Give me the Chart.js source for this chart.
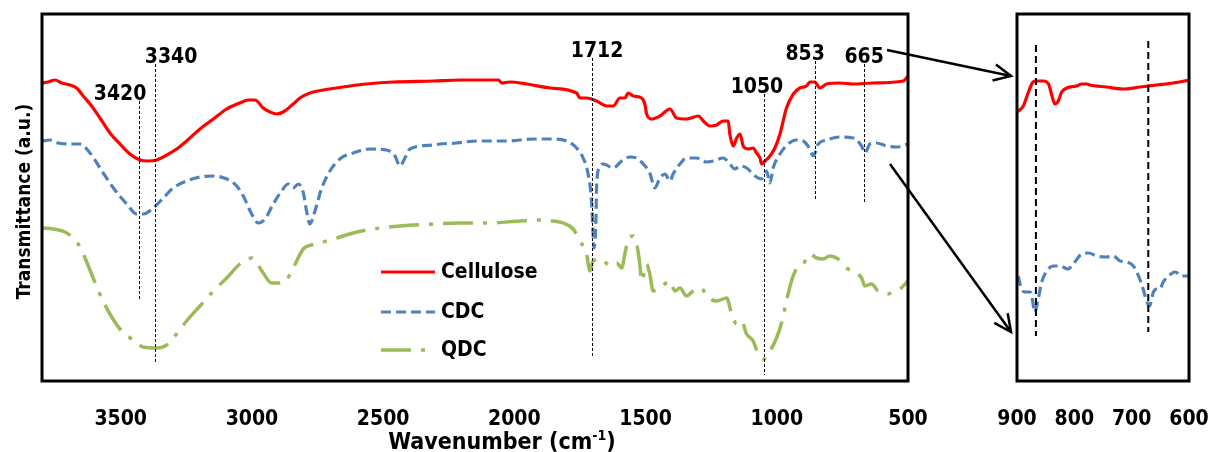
<!DOCTYPE html>
<html>
<head>
<meta charset="utf-8">
<script src="https://cdn.jsdelivr.net/npm/chart.js@4.4.1/dist/chart.umd.min.js"></script>
<style>
  html, body { margin: 0; padding: 0; background: #fff; }
  #wrap { position: relative; width: 1210px; height: 452px; }
  canvas { position: absolute; left: 0; top: 0; }
</style>
</head>
<body>
<div id="wrap">
  <canvas id="main" width="1210" height="452"></canvas>
  <canvas id="inset" width="1210" height="452"></canvas>
</div>
<script>
// ---------------- data ----------------
const seriesNames = ['Cellulose', 'CDC', 'QDC'];

const wnCellulose = [3800,3776,3750,3725,3693,3668,3643,3611,3579,3541,3503,3465,3427,3395,3363,3331,3287,3249,3198,3147,3096,3046,3014,2988,2957,2931,2906,2881,2843,2817,2779,2728,2626,2563,2461,2309,2207,2157,2061,2048,2017,1953,1864,1763,1750,1725,1687,1648,1623,1598,1579,1566,1547,1515,1503,1496,1477,1445,1407,1382,1344,1299,1280,1255,1229,1204,1185,1179,1166,1153,1140,1128,1109,1090,1077,1064,1058,1045,1026,1007,988,963,937,912,887,874,855,836,810,760,709,633,518,500];
const tCellulose = [298,299,301,298,296,293,285,275,263,248,237,227,221,220,221,225,232,240,252,262,272,278,281,281,273,269,267,269,277,283,288,291,295,297,299,300,301,301,301,298,299,297,293,288,283,283,280,275,275,283,283,288,285,283,277,267,262,265,272,263,262,265,260,255,256,260,260,247,235,243,247,235,232,233,228,223,217,220,225,233,247,273,287,293,295,299,299,293,297,298,297,298,300,305];

const wnCDC = [3800,3770,3738,3700,3655,3617,3579,3528,3477,3439,3414,3376,3338,3300,3249,3198,3147,3096,3058,3033,3001,2976,2950,2919,2887,2862,2843,2823,2804,2792,2779,2760,2734,2703,2665,2614,2550,2487,2455,2436,2417,2398,2309,2284,2220,2144,2029,1928,1852,1801,1763,1738,1719,1706,1700,1697,1689,1687,1677,1661,1623,1591,1560,1534,1509,1484,1465,1445,1426,1407,1395,1369,1344,1306,1268,1242,1204,1179,1160,1140,1115,1083,1058,1039,1026,1014,988,957,925,899,874,861,842,810,760,709,677,664,645,620,582,544,500];
const tCDC = [240,241,238,237,237,228,213,193,177,167,167,173,183,193,200,204,205,202,195,185,167,158,162,177,190,197,193,197,188,170,157,170,193,210,222,228,232,231,225,215,223,232,236,237,238,240,240,242,242,240,233,223,207,180,147,133,163,193,213,217,213,220,224,223,217,208,193,203,207,200,207,217,223,223,219,220,223,217,212,215,213,205,202,210,198,213,227,237,241,240,232,225,237,241,244,243,235,228,237,238,235,234,237];

const wnQDC = [3800,3757,3712,3681,3662,3636,3605,3573,3541,3503,3458,3414,3363,3331,3300,3249,3198,3147,3096,3046,3001,2982,2957,2925,2881,2843,2804,2753,2690,2614,2538,2436,2309,2207,2093,1979,1903,1852,1814,1776,1750,1725,1712,1700,1668,1636,1610,1591,1579,1566,1547,1534,1522,1515,1496,1484,1471,1445,1407,1388,1369,1344,1319,1287,1268,1229,1191,1172,1153,1134,1115,1090,1071,1049,1026,1001,982,963,944,925,899,874,848,823,798,766,734,696,677,664,639,614,575,556,531,500];
const tQDC = [153,152,149,143,137,123,103,83,67,52,42,34,33,35,43,60,75,90,103,117,123,118,108,98,98,113,132,137,142,148,152,155,157,158,158,160,161,160,158,152,140,127,110,120,122,115,118,113,127,142,145,137,117,100,117,107,90,93,100,90,93,85,90,93,85,80,83,67,57,60,47,40,27,22,30,43,58,80,100,112,117,127,123,122,125,122,113,108,103,95,97,90,87,90,92,100];

// inset (900-600 cm-1, expanded)
const insetWnCellulose = [899,889,880,872,866,854,845,839,834,828,822,813,796,787,778,773,744,715,685,656,627,599];
const insetCellulose = [269,275,289,299,300,300,297,285,277,280,289,293,295,297,297,296,294,292,294,296,298,301];
const insetWnCDC = [898,892,886,877,874,869,863,857,848,837,825,811,802,787,775,761,744,732,720,709,697,688,680,674,669,662,656,651,645,636,624,613,599];
const insetCDC = [105,92,89,89,84,69,82,99,110,115,115,112,117,127,128,125,124,125,120,119,115,105,92,80,75,89,92,92,99,105,109,105,105];

// tick labels
const mainTicks = [3500, 3000, 2500, 2000, 1500, 1000, 500];
const insetTicks = [900, 800, 700, 600];

// peak annotations (main panel)
const peakLabels = ['3420', '3340', '1712', '1050', '853', '665'];
const peakWavenumbers = [3430, 3369, 1704, 1049, 854, 667];
const peakLineTop = [280, 317, 323, 287, 320, 317];
const peakLineBottom = [80, 17, 23, 6, 180, 177];
// inset marker lines
const insetPeakWavenumbers = [867, 671];
const insetLineTop = [336, 340];
const insetLineBottom = [45, 49];

// ---------------- styling / layout ----------------
const FONT = '"DejaVu Sans Condensed", "DejaVu Sans", sans-serif';
const colors = ['#FF0000', '#4F81BD', '#9BBB59'];
const dashes = [[], [10, 5], [30, 10, 4, 10]];
const widths = [3.2, 3.2, 3.5];
const peakLabelDx = [-19, 16, 5, -7, -10, 0];
const legendLayout = { x: 381, lineLen: 54, gap: 6, rows: [272, 312, 350] };
const arrows = [ { from: [887, 50], to: [1011, 76] }, { from: [890, 164], to: [1011, 332] } ];

const pts = (xs, ys) => xs.map((x, i) => ({ x: x, y: ys[i] }));

function makeDataset(i, xs, ys) {
  return {
    label: seriesNames[i],
    data: pts(xs, ys),
    borderColor: colors[i],
    borderWidth: widths[i],
    borderDash: dashes[i],
    pointRadius: 0,
    fill: false,
    cubicInterpolationMode: 'monotone'
  };
}

function frame(chart) {
  const { ctx, chartArea: a } = chart;
  ctx.save();
  ctx.strokeStyle = '#000';
  ctx.lineWidth = 3;
  ctx.setLineDash([]);
  ctx.strokeRect(a.left, a.top, a.right - a.left, a.bottom - a.top);
  ctx.restore();
}

const mainDecor = {
  id: 'mainDecor',
  afterDatasetsDraw(chart) {
    const { ctx, scales: { x, y } } = chart;
    ctx.save();
    ctx.strokeStyle = '#000';
    ctx.lineWidth = 1;
    ctx.setLineDash([3, 2]);
    peakWavenumbers.forEach((w, i) => {
      const px = Math.round(x.getPixelForValue(w)) + 0.5;
      ctx.beginPath();
      ctx.moveTo(px, y.getPixelForValue(peakLineTop[i]));
      ctx.lineTo(px, y.getPixelForValue(peakLineBottom[i]));
      ctx.stroke();
    });
    ctx.setLineDash([]);
    ctx.fillStyle = '#000';
    ctx.font = 'bold 21px ' + FONT;
    ctx.textAlign = 'center';
    ctx.textBaseline = 'alphabetic';
    peakWavenumbers.forEach((w, i) => {
      const px = x.getPixelForValue(w) + peakLabelDx[i];
      ctx.fillText(peakLabels[i], px, y.getPixelForValue(peakLineTop[i]) - 1);
    });
    // legend
    chart.data.datasets.forEach((ds, i) => {
      const ly = legendLayout.rows[i];
      ctx.strokeStyle = ds.borderColor;
      ctx.lineWidth = ds.borderWidth;
      ctx.setLineDash(ds.borderDash || []);
      ctx.beginPath();
      ctx.moveTo(legendLayout.x, ly);
      ctx.lineTo(legendLayout.x + legendLayout.lineLen, ly);
      ctx.stroke();
      ctx.setLineDash([]);
      ctx.fillStyle = '#000';
      ctx.textAlign = 'left';
      ctx.textBaseline = 'middle';
      ctx.fillText(ds.label, legendLayout.x + legendLayout.lineLen + legendLayout.gap, ly + 1);
    });
    ctx.restore();
    frame(chart);
  },
  afterDraw(chart) {
    const { ctx, chartArea: a } = chart;
    ctx.save();
    ctx.fillStyle = '#000';
    const big = 'bold 23px ' + FONT, small = 'bold 14px ' + FONT;
    const p1 = 'Wavenumber (cm', p2 = '-1', p3 = ')';
    ctx.font = big; const w1 = ctx.measureText(p1).width, w3 = ctx.measureText(p3).width;
    ctx.font = small; const w2 = ctx.measureText(p2).width;
    const total = w1 + w2 + w3;
    let tx = 502 - total / 2;
    const base = 449;
    ctx.textAlign = 'left'; ctx.textBaseline = 'alphabetic';
    ctx.font = big; ctx.fillText(p1, tx, base); tx += w1;
    ctx.font = small; ctx.fillText(p2, tx, base - 9); tx += w2;
    ctx.font = big; ctx.fillText(p3, tx, base);
    ctx.save();
    ctx.translate(30, (a.top + a.bottom) / 2 + 4);
    ctx.rotate(-Math.PI / 2);
    ctx.font = 'bold 19px ' + FONT;
    ctx.textAlign = 'center';
    ctx.fillText('Transmittance (a.u.)', 0, 0);
    ctx.restore();
    ctx.restore();
  }
};

const insetDecor = {
  id: 'insetDecor',
  afterDatasetsDraw(chart) {
    const { ctx, scales: { x, y } } = chart;
    ctx.save();
    ctx.strokeStyle = '#000';
    ctx.lineWidth = 2;
    ctx.setLineDash([7, 4]);
    insetPeakWavenumbers.forEach((w, i) => {
      const px = x.getPixelForValue(w);
      ctx.beginPath();
      ctx.moveTo(px, y.getPixelForValue(insetLineTop[i]));
      ctx.lineTo(px, y.getPixelForValue(insetLineBottom[i]));
      ctx.stroke();
    });
    ctx.restore();
    frame(chart);
  },
  afterDraw(chart) {
    const ctx = chart.ctx;
    ctx.save();
    ctx.strokeStyle = '#000';
    ctx.lineWidth = 2.5;
    ctx.setLineDash([]);
    arrows.forEach(ar => {
      const [x0, y0] = ar.from, [x1, y1] = ar.to;
      ctx.beginPath(); ctx.moveTo(x0, y0); ctx.lineTo(x1, y1); ctx.stroke();
      const ang = Math.atan2(y1 - y0, x1 - x0), L = 19, sp = 0.45;
      ctx.beginPath();
      ctx.moveTo(x1 - L * Math.cos(ang - sp), y1 - L * Math.sin(ang - sp));
      ctx.lineTo(x1, y1);
      ctx.lineTo(x1 - L * Math.cos(ang + sp), y1 - L * Math.sin(ang + sp));
      ctx.stroke();
    });
    ctx.restore();
  }
};

const tickFont = { family: FONT, size: 21, weight: 'bold' };
const fitX = s => { s.height = 71; s.paddingLeft = 0; s.paddingRight = 0; };

new Chart(document.getElementById('main'), {
  type: 'line',
  data: { datasets: [
    makeDataset(0, wnCellulose, tCellulose),
    makeDataset(1, wnCDC, tCDC),
    makeDataset(2, wnQDC, tQDC)
  ] },
  options: {
    responsive: false,
    animation: false,
    layout: { padding: { left: 42, right: 302, top: 14, bottom: 0 } },
    scales: {
      x: {
        type: 'linear', reverse: true, min: 500, max: 3800,
        grid: { display: false }, border: { display: false },
        ticks: { font: tickFont, color: '#000', padding: 18, maxRotation: 0, autoSkip: false, callback: v => String(v) },
        afterBuildTicks: s => { s.ticks = mainTicks.map(v => ({ value: v })); },
        afterFit: fitX
      },
      y: { display: false, min: 0, max: 367 }
    },
    plugins: { legend: { display: false }, tooltip: { enabled: false } }
  },
  plugins: [mainDecor]
});

new Chart(document.getElementById('inset'), {
  type: 'line',
  data: { datasets: [
    makeDataset(0, insetWnCellulose, insetCellulose),
    makeDataset(1, insetWnCDC, insetCDC)
  ] },
  options: {
    responsive: false,
    animation: false,
    layout: { padding: { left: 1017, right: 21, top: 14, bottom: 0 } },
    scales: {
      x: {
        type: 'linear', reverse: true, min: 600, max: 900,
        grid: { display: false }, border: { display: false },
        ticks: { font: tickFont, color: '#000', padding: 18, maxRotation: 0, autoSkip: false, callback: v => String(v) },
        afterBuildTicks: s => { s.ticks = insetTicks.map(v => ({ value: v })); },
        afterFit: fitX
      },
      y: { display: false, min: 0, max: 367 }
    },
    plugins: { legend: { display: false }, tooltip: { enabled: false } }
  },
  plugins: [insetDecor]
});
</script>
</body>
</html>
